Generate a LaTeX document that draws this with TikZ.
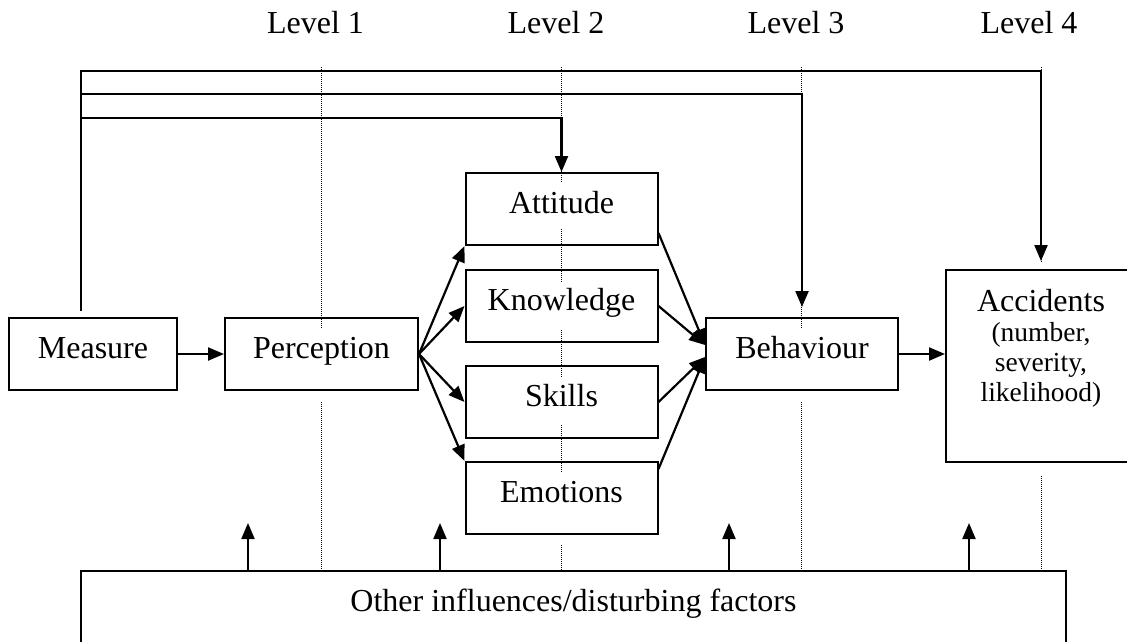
\documentclass[tikz,border=0pt]{standalone}
\usepackage{fontspec}
\setmainfont{Liberation Serif}
\usetikzlibrary{arrows.meta,calc,backgrounds}

\begin{document}
\begin{tikzpicture}[
    x=1pt, y=-1pt,
    mainfont/.style={font=\fontsize{32}{34}\selectfont},
    frame/.style={draw, line width=2pt, inner sep=0pt},
    box/.style={frame, mainfont, minimum height=72pt,
                text height=22pt, text depth=14pt},
    link/.style={line width=2.2pt},
    arr/.style={line width=2.2pt, -{Triangle[length=16pt,width=13pt]}},
    levelline/.style={line width=1pt, dash pattern=on 1pt off 1pt},
    levellabel/.style={mainfont, anchor=base, inner sep=0pt}
  ]
  \useasboundingbox (0,0) rectangle (1127,641);
  \clip (0,0) rectangle (1127,641);

  % level headings
  \node[levellabel] (lv1) at (315.5,33) {Level 1};
  \node[levellabel] (lv2) at (556,33) {Level 2};
  \node[levellabel] (lv3) at (796,33) {Level 3};
  \node[levellabel] (lv4) at (1029,33) {Level 4};

  % boxes
  \node[box, minimum width=168pt] (meas) at (93,354) {Measure};
  \node[box, minimum width=193pt] (perc) at (321.5,354) {Perception};
  \node[box, minimum width=192pt] (att)  at (561.5,209) {Attitude};
  \node[box, minimum width=192pt] (know) at (561.5,306) {Knowledge};
  \node[box, minimum width=192pt] (skil) at (561.5,402) {Skills};
  \node[box, minimum width=192pt] (emo)  at (561.5,498) {Emotions};
  \node[box, minimum width=192pt] (beh)  at (802,354) {Behaviour};
  \node[frame, minimum width=190pt, minimum height=192pt] (acc) at (1041,366) {};
  \node[font=\fontsize{27.5}{30}\selectfont, align=center, anchor=north,
        inner sep=0pt] (acctext) at (1041,289)
       {{\fontsize{32}{32}\selectfont Accidents}\\(number,\\severity,\\likelihood)};
  \node[frame, mainfont, anchor=north, minimum width=985pt,
        inner ysep=18pt, text height=22pt, text depth=40pt]
       (other) at (573.5,570) {Other influences/disturbing factors};

  % dotted level boundaries
  \begin{scope}[on background layer]
    \draw[levelline] (321,67) -- (321,329) (321,402) -- (321,570);
    \draw[levelline] (561,67) -- (561,183) (561,229) -- (561,282)
                     (561,330) -- (561,378) (561,425) -- (561,473)
                     (561,545) -- (561,570);
    \draw[levelline] (801,67) -- (801,329) (801,402) -- (801,570);
    \draw[levelline] (1041,67) -- (1041,262) (1041,476) -- (1041,570);
  \end{scope}

  % feedback lines from the measure to levels 2--4
  \coordinate (trunk) at (81,311);
  \coordinate (row1) at (81,71);
  \coordinate (row2) at (81,94);
  \coordinate (row3) at (81,118);
  \draw[link] (trunk) -- ([yshift=1.1pt]row1);
  \draw[arr] (row1) -| ($(acc.north)+(0,-8)$);
  \draw[arr] (row2) -| ($(beh.north)+(0,-10)$);
  \draw[arr] (row3) -| (att.north);

  % main chain
  \draw[arr] (meas.east) -- (perc.west);
  \draw[arr] (perc.east) -- (att.south west);
  \draw[arr] (perc.east) -- (know.west);
  \draw[arr] (perc.east) -- (skil.west);
  \draw[arr] (perc.east) -- (emo.north west);
  \coordinate (behin1) at ($(beh.west)+(0,-9)$);
  \coordinate (behin2) at ($(beh.west)+(0,3)$);
  \draw[arr] ($(att.south east)+(0,-13)$) -- (behin1);
  \draw[arr] (know.east) -- (behin1);
  \draw[arr] (skil.east) -- (behin2);
  \draw[arr] ($(emo.north east)+(0,8)$) -- (behin2);
  \draw[arr] (beh.east) -- (beh.east -| acc.west);

  % disturbing factors acting on each stage
  \foreach \dx in {168,360,649,889}
    \draw[arr] ($(other.north west)+(\dx,0)$) -- ++(0,-47);
\end{tikzpicture}
\end{document}
